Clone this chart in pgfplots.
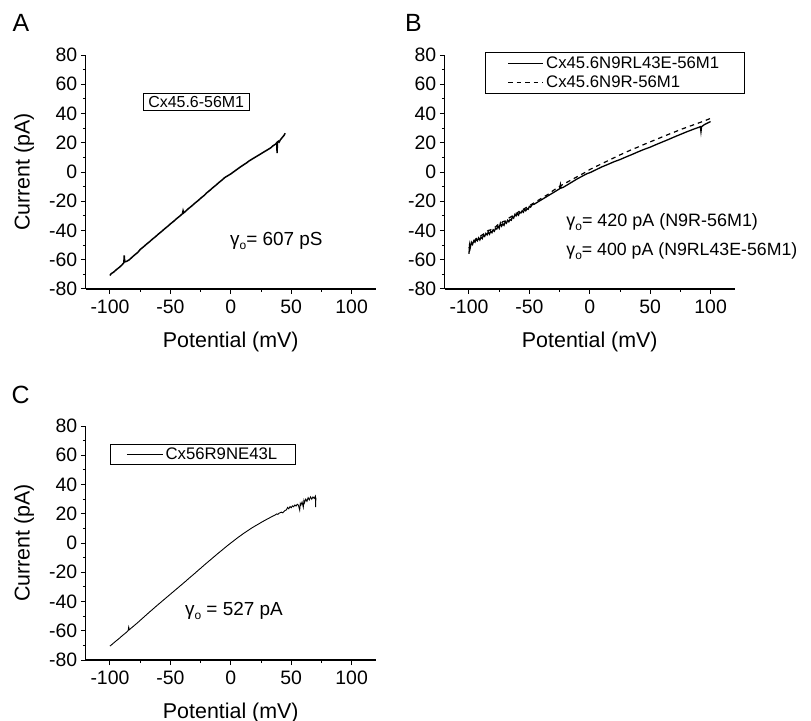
\documentclass[border=0pt]{standalone}
\usepackage{fontspec}
\setmainfont{Liberation Sans}
\usepackage{pgfplots}
\pgfplotsset{compat=1.18}
\newcommand{\gam}{γ\raisebox{-0.22em}{\fontsize{12}{12}\selectfont o}}
\pgfplotsset{
  panel/.style={
    width=290bp, height=234bp, scale only axis,
    axis lines=left, axis line style={-, line width=1.2bp},
    xmin=-120, xmax=120, ymin=-80, ymax=80,
    xtick={-100,-50,...,100}, ytick={-80,-60,...,80},
    minor xtick={-75,-25,25,75}, minor ytick={-70,-50,...,70},
    tick align=outside, major tick length=5bp, minor tick length=3bp,
    every tick/.style={line width=1bp, black},
    ticklabel style={font=\fontsize{19.5}{19.5}\selectfont},
    xticklabel style={yshift=-2bp},
    /pgf/number format/assume math mode=true,
    label style={font=\fontsize{21.5}{21.5}\selectfont},
    xlabel={Potential (mV)},
    xlabel style={at={(axis description cs:0.5,-0.248)}, anchor=base},
    ylabel style={at={(axis description cs:-0.194,0.5)}, anchor=base},
    clip=false,
    legend cell align=left,
  }
}
\begin{document}
\begin{tikzpicture}
\path[use as bounding box] (0bp,0bp) rectangle (811bp,721bp);
\node[anchor=base west, inner sep=0, font=\fontsize{25}{25}\selectfont] at (12.5bp,689bp) {A};
\node[anchor=base west, inner sep=0, font=\fontsize{25}{25}\selectfont] at (405bp,689bp) {B};
\node[anchor=base west, inner sep=0, font=\fontsize{25}{25}\selectfont] at (11.5bp,317bp) {C};

% ---------------- Panel A
\begin{axis}[panel, at={(85.8bp,432bp)}, anchor=south west,
  ylabel={Current (pA)},
  legend image code/.code={},
  legend style={at={(axis description cs:0.196,0.836)}, anchor=north west,
    draw=black, line width=0.8bp, font=\fontsize{16}{18}\selectfont,
    inner xsep=5.3bp, inner ysep=0bp,
    nodes={inner xsep=0bp, inner ysep=2.2bp, text depth=0.15em, text width=96bp, align=left}}]
\addplot[black, line width=1.5bp] coordinates {
(-100,-70.8) (-99,-69.5) (-97,-68.5) (-95,-67) (-92,-65) (-90,-63.5) (-88.5,-62) (-88.2,-57)
(-87.8,-61.5) (-86,-61) (-84,-60) (-82,-58.5) (-80,-57) (-77,-55) (-75,-53) (-72,-51)
(-70,-49.5) (-67,-47.5) (-65,-46) (-62,-44) (-60,-42.5) (-57,-40.5) (-55,-39) (-52,-37)
(-50,-35.5) (-47,-33.5) (-45,-32) (-42,-30) (-40,-28.5) (-39.5,-26.5) (-39,-28) (-37,-26.5)
(-35,-25) (-32,-23) (-30,-21.5) (-27,-19.5) (-25,-18) (-22,-16) (-20,-14.3) (-17,-12.3)
(-15,-10.8) (-12,-8.8) (-10,-7.3) (-7,-5.3) (-5,-3.8) (-2,-2.3) (0,-1.3) (3,0.5)
(5,1.7) (8,3.5) (10,4.6) (13,6.2) (15,7.5) (18,9) (20,10) (23,11.5) (25,12.5) (28,14)
(30,15) (33,16.5) (35,18) (37,19) (38,20) (38.3,13) (38.6,20) (39.5,21) (40,20.5)
(41,22) (42,23) (43,24) (44,25) (45,26.5)
};
\addlegendentry{\mbox{Cx45.6-56M1}}
\node[anchor=base west, inner sep=0, font=\fontsize{19}{19}\selectfont] at (axis cs:-0.7,-50) {\gam= 607 pS};
\end{axis}

% ---------------- Panel B
\begin{axis}[panel, at={(444.8bp,432bp)}, anchor=south west,
  legend image code/.code={\draw[#1] (0bp,0bp) -- (35bp,0bp);},
  legend style={at={(axis description cs:0.1386,1.014)}, anchor=north west,
    draw=black, line width=0.8bp, font=\fontsize{16.8}{20}\selectfont,
    inner xsep=22bp, inner ysep=2.5bp,
    nodes={inner xsep=2.5bp, inner ysep=2.6bp, text depth=0.15em, text width=174bp, align=left}}]
\addplot[black, line width=1.3bp] coordinates {
(-100,-56) (-99.5,-50) (-99,-52) (-98,-48) (-97,-49.5) (-96,-47) (-95,-48) (-94,-46)
(-93,-47) (-92,-45) (-91,-46.5) (-90,-44.5) (-89,-45.5) (-88,-43) (-87,-44) (-86,-42)
(-85,-43) (-84,-41) (-83,-42.5) (-82,-40.5) (-81,-41.5) (-80,-39.5) (-79,-40.5) (-78,-38.5)
(-77,-39) (-76,-37) (-75,-38.5) (-74,-35) (-73,-37) (-72,-35.5) (-71,-36.5) (-70,-34)
(-69,-35) (-68,-33) (-67,-34) (-66,-32.5) (-65,-33) (-64,-30.5) (-63,-31.5) (-62,-29)
(-61,-30) (-60,-28.5) (-59,-29.5) (-58,-27.5) (-57,-28) (-56,-26.5) (-55,-27.5) (-54,-25.5)
(-53,-26.5) (-52,-25) (-51,-25.5) (-50,-23.5) (-49,-24) (-48,-22.5) (-46,-22) (-44,-21)
(-42,-20) (-40,-19) (-37,-17.5) (-35,-16.5) (-32,-15) (-30,-14) (-27,-12.5) (-25,-11.5)
(-24.3,-8.5) (-23.7,-11) (-22,-10.5) (-20,-9.5) (-17,-8) (-15,-7) (-12,-5.5) (-10,-4.5)
(-7,-3.2) (-5,-2.3) (-2,-1) (0,-0.5) (5,1.5) (10,3.5) (15,5.2) (20,7) (25,8.5) (30,10.3)
(35,12) (40,13.8) (45,15.5) (50,17) (55,18.8) (60,20.5) (65,22.2) (70,24) (75,25.7)
(80,27.4) (85,29) (90,30.5) (91.5,31) (92,27.5) (92.5,31) (95,32.5) (100,34.5)
};
\addlegendentry{\mbox{Cx45.6N9RL43E-56M1}}
\addplot[black, line width=1.2bp, dash pattern=on 4.5bp off 4bp] coordinates {
(-100,-52) (-98,-49) (-96,-47.5) (-94,-45.5) (-92,-45) (-90,-43.5) (-88,-42.5) (-86,-41)
(-84,-40) (-82,-39.5) (-80,-38.5) (-78,-37.5) (-76,-36) (-74,-35.5) (-72,-34) (-70,-33.5)
(-68,-32) (-66,-31) (-64,-30) (-62,-28.5) (-60,-28) (-58,-26.5) (-56,-26) (-54,-25)
(-52,-24) (-50,-23) (-45,-20.5) (-40,-18) (-35,-15.5) (-30,-12.5) (-25,-9.8) (-20,-7.5)
(-15,-5.3) (-10,-3) (-5,-0.8) (0,1.7) (5,3.7) (10,5.7) (15,7.7) (20,9.7) (25,11.7)
(30,13.6) (35,15.4) (40,17.1) (45,18.9) (50,20.6) (55,22.3) (60,24) (65,25.7) (70,27.3)
(75,29) (80,30.5) (85,32) (90,33.5) (95,35) (100,36.7)
};
\addlegendentry{\mbox{Cx45.6N9R-56M1}}
\node[anchor=base west, inner sep=0, font=\fontsize{18}{18}\selectfont] at (axis cs:-19.5,-37.4) {\gam= 420 pA (N9R-56M1)};
\node[anchor=base west, inner sep=0, font=\fontsize{17.8}{17.8}\selectfont] at (axis cs:-19.5,-57.4) {\gam= 400 pA (N9RL43E-56M1)};
\end{axis}

% ---------------- Panel C
\begin{axis}[panel, at={(85.8bp,61bp)}, anchor=south west,
  ylabel={Current (pA)},
  legend image code/.code={\draw[#1] (0bp,0bp) -- (35.7bp,0bp);},
  legend style={at={(axis description cs:0.0834,0.925)}, anchor=north west,
    draw=black, line width=0.8bp, font=\fontsize{16.8}{19}\selectfont,
    inner xsep=16bp, inner ysep=1.8bp,
    nodes={inner xsep=2.6bp, inner ysep=2bp, text depth=0.15em, text width=111.4bp, align=left}}]
\addplot[black, line width=0.9bp] coordinates {
(-100,-70.5) (-97,-68.4) (-95,-67) (-92,-65) (-90,-63.5) (-87,-61.5) (-85,-60) (-84.5,-57.5)
(-84,-59.3) (-82,-57.9) (-80,-56.5) (-77,-54.4) (-75,-52.9) (-72,-50.7) (-70,-49.2)
(-67,-47) (-65,-45.6) (-62,-43.4) (-60,-42) (-57,-39.9) (-55,-38.5) (-52,-36.4) (-50,-35)
(-47,-32.9) (-45,-31.5) (-42,-29.4) (-40,-28) (-37,-25.9) (-35,-24.4) (-32,-22.3) (-30,-20.9)
(-27,-18.7) (-25,-17.3) (-22,-15.1) (-20,-13.7) (-17,-11.6) (-15,-10.2) (-12,-8.1) (-10,-6.7)
(-7,-4.7) (-5,-3.3) (-2,-1.3) (0,0) (3,1.9) (5,3.2) (8,5) (10,6.2) (13,7.9) (15,9)
(18,10.6) (20,11.6) (23,13) (25,14) (28,15.4) (30,16.3) (33,17.6) (35,18.5) (37,19.3)
(38,19.9) (39,19.6) (40,20.4) (42,21.1) (43,20.6) (44,21.6) (45,22.3) (46,22.6) (47,24.3)
(48,23.4) (49,24.9) (50,24.1) (51,25.4) (52,24.8) (53,26) (54,25.3) (55,26.5) (56,25.8)
(57,22.5) (57.5,27) (58,26) (59,28) (60,24.5) (60.5,29) (61,27.5) (62,30) (63,28.5)
(64,31) (65,29.5) (66,31.5) (67,30) (68,31.5) (69,30.5) (70,32) (70.2,24.5) (70.4,31)
};
\addlegendentry{\mbox{Cx56R9NE43L}}
\node[anchor=base west, inner sep=0, font=\fontsize{19}{19}\selectfont] at (axis cs:-38,-49.5) {\gam\ = 527 pA};
\end{axis}
\end{tikzpicture}
\end{document}
